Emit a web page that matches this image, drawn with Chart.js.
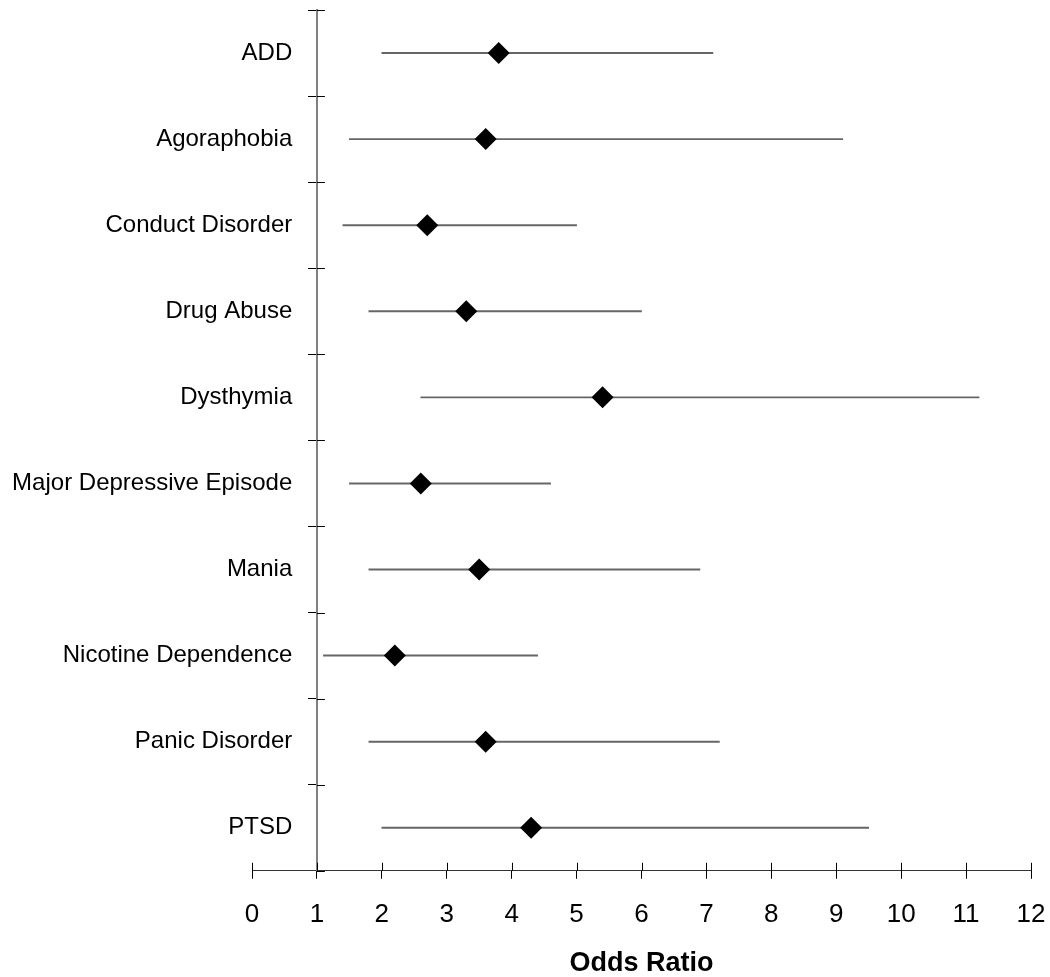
<!DOCTYPE html>
<html>
<head>
<meta charset="utf-8">
<script src="https://cdn.jsdelivr.net/npm/chart.js@4.4.0/dist/chart.umd.min.js"></script>
<style>
  body { margin: 0; background: #fff; }
  #wrap { width: 1050px; height: 977px; }
</style>
</head>
<body>
<div id="wrap"><canvas id="forestChart"></canvas></div>
<script>
// Odds ratios with 95% CI
const disorders = ['ADD', 'Agoraphobia', 'Conduct Disorder', 'Drug Abuse', 'Dysthymia',
    'Major Depressive Episode', 'Mania', 'Nicotine Dependence', 'Panic Disorder', 'PTSD'];
const oddsRatio = [3.8, 3.6, 2.7, 3.3, 5.4, 2.6, 3.5, 2.2, 3.6, 4.3];
const ciLow = [2.0, 1.5, 1.4, 1.8, 2.6, 1.5, 1.8, 1.1, 1.8, 2.0];
const ciHigh = [7.1, 9.1, 5.0, 6.0, 11.2, 4.6, 6.9, 4.4, 7.2, 9.5];
const xTicks = [0, 1, 2, 3, 4, 5, 6, 7, 8, 9, 10, 11, 12];

const font = "Arial, 'Liberation Sans', sans-serif";

// tick marks in the reference cross the axis, chart.js only draws the outer half
const crossTicks = {
    id: 'crossTicks',
    afterDraw(chart) {
        const ctx = chart.ctx;
        const xs = chart.scales.x;
        const ys = chart.scales.y;
        const axisY = chart.chartArea.bottom;
        const axisX = xs.getPixelForValue(1);
        ctx.save();
        ctx.strokeStyle = '#000';
        ctx.lineWidth = 1;
        ctx.beginPath();
        xs.ticks.forEach((t, i) => {
            const px = Math.round(xs.getPixelForTick(i)) + 0.5;
            ctx.moveTo(px, axisY);
            ctx.lineTo(px, axisY - 8);
        });
        for (let i = 0; i <= disorders.length; i++) {
            const py = Math.round(ys.getPixelForValue(i - 0.5)) + 0.5;
            ctx.moveTo(axisX, py);
            ctx.lineTo(axisX + 8, py);
        }
        ctx.stroke();
        ctx.restore();
    }
};

const ctx = document.getElementById('forestChart').getContext('2d');
new Chart(ctx, {
    type: 'bar',
    data: {
        labels: disorders,
        datasets: [{
            label: 'CI',
            data: disorders.map((d, i) => [ciLow[i], ciHigh[i]]),
            backgroundColor: '#666',
            borderWidth: 0,
            barThickness: 1.3,
            order: 2
        }, {
            type: 'line',
            label: 'Odds Ratio',
            data: disorders.map((d, i) => ({ x: oddsRatio[i], y: d })),
            showLine: false,
            pointStyle: 'rectRot',
            pointRadius: 11,
            pointBackgroundColor: '#000',
            pointBorderColor: '#000',
            pointBorderWidth: 0,
            order: 1
        }]
    },
    options: {
        indexAxis: 'y',
        responsive: true,
        maintainAspectRatio: false,
        animation: false,
        layout: {
            autoPadding: false,
            padding: { left: 252, right: 19, top: 10, bottom: 0 }
        },
        plugins: {
            legend: { display: false },
            tooltip: { enabled: false }
        },
        scales: {
            x: {
                type: 'linear',
                min: 0,
                max: 12,
                afterBuildTicks: (scale) => {
                    scale.ticks = xTicks.map(v => ({ value: v }));
                },
                // label padding should not push the plot edge in
                afterFit: (scale) => {
                    scale.paddingLeft = 0;
                    scale.paddingRight = 0;
                },
                grid: {
                    drawOnChartArea: false,
                    tickLength: 8,
                    color: '#000',
                    lineWidth: 1
                },
                border: { color: '#333', width: 1 },
                ticks: {
                    color: '#000',
                    padding: 20,
                    font: { family: font, size: 26 }
                },
                title: {
                    display: true,
                    text: 'Odds Ratio',
                    color: '#000',
                    padding: { top: 0, bottom: 0 },
                    font: { family: font, size: 27, weight: 'bold', lineHeight: 1 }
                }
            },
            // axis line at odds ratio 1, with the row tick marks
            y: {
                type: 'category',
                position: { x: 1 },
                offset: true,
                grid: {
                    offset: true,
                    drawOnChartArea: false,
                    tickLength: 8,
                    color: '#000',
                    lineWidth: 1
                },
                border: { color: '#808080', width: 2 },
                ticks: { display: false }
            },
            // row names, right-aligned a little left of the axis line
            yLabels: {
                type: 'category',
                position: { x: 0.62 },
                offset: true,
                afterFit: (scale) => {
                    scale.paddingTop = 0;
                    scale.paddingBottom = 0;
                },
                grid: { display: false },
                border: { display: false },
                ticks: {
                    color: '#000',
                    font: { family: font, size: 24 }
                }
            }
        }
    },
    plugins: [crossTicks]
});
</script>
</body>
</html>
